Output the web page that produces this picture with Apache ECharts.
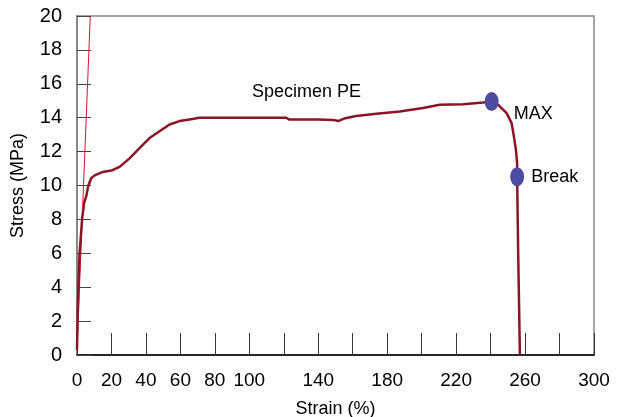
<!DOCTYPE html>
<html><head><meta charset="utf-8">
<script src="https://cdn.jsdelivr.net/npm/echarts@6/dist/echarts.min.js"></script>
<style>html,body{margin:0;padding:0;background:#fff}#c{width:617px;height:417px}</style>
</head><body><div id="c"></div>
<script>
const strainCurve = [0,0.3,0.8,1.5,3.0,4.2,5.3,6.6,8.25,10.2,15.0,20.6,24.7,30.5,36.3,42.1,47.9,53.7,59.5,65.3,71.1,100,121.5,123,140,148.6,151.5,155,162,173.8,187.3,200.8,210.5,224,235.7,240.6,244.4,249.3,252.2,253.5,254.7,255.4,255.4,256,257];
const stressCurve = [0.3,2,4,6,8.06,9.0,9.34,10.0,10.43,10.6,10.8,10.9,11.1,11.6,12.2,12.8,13.2,13.6,13.8,13.9,14.0,14.0,14.0,13.9,13.9,13.87,13.8,13.95,14.1,14.23,14.37,14.57,14.76,14.8,14.9,14.96,14.76,14.27,13.68,12.9,12.1,11.3,10.52,6,0];
const elasticStrain = [0,7.7];
const elasticStress = [0.3,20];
const markerNames = ['MAX','Break'];
const markerStrain = [240.6,255.4];
const markerStress = [14.96,10.52];
const xTickLabels = [0,20,40,60,80,100,140,180,220,260,300];
const specimenLabel = 'Specimen PE';

const chart = echarts.init(document.getElementById('c'));
const font = '"Liberation Sans", Arial, sans-serif';
const labelOffsets = {MAX:[8,13], Break:[0,0]};
chart.setOption({
  animation:false,
  grid:{left:77,right:23,top:16,bottom:62,outerBoundsMode:'none',containLabel:false,show:true,borderColor:'#888',borderWidth:1.5},
  graphic:[{type:'text',left:252,top:83,style:{text:specimenLabel,fontFamily:font,fontSize:18,fill:'#000'}}],
  xAxis:{type:'value',min:0,max:300,interval:20,
    name:'Strain (%)',nameLocation:'middle',nameGap:45,
    nameTextStyle:{fontFamily:font,fontSize:18,color:'#000'},
    axisLine:{lineStyle:{color:'#000',width:1.5}},
    axisTick:{inside:true,length:22,lineStyle:{color:'#333'}},
    splitLine:{show:false},
    axisLabel:{fontFamily:font,fontSize:19,color:'#000',margin:16,
      formatter:v=>xTickLabels.includes(v)?String(v):''}},
  yAxis:{type:'value',min:0,max:20,interval:2,
    name:'Stress (MPa)',nameLocation:'middle',nameGap:50,
    nameTextStyle:{fontFamily:font,fontSize:18,color:'#000'},
    axisLine:{lineStyle:{color:'#888',width:2}},
    axisTick:{inside:true,length:14,lineStyle:{color:'#444'}},
    splitLine:{show:false},
    axisLabel:{fontFamily:font,fontSize:20,color:'#000',margin:15}},
  series:[
    {type:'line',data:elasticStrain.map((x,i)=>[x,elasticStress[i]]),symbol:'none',
      lineStyle:{color:'#e0102a',width:1},z:3},
    {type:'line',data:strainCurve.map((x,i)=>[x,stressCurve[i]]),symbol:'none',
      lineStyle:{color:'#8b1425',width:2.5},z:4},
    {type:'scatter',data:markerStrain.map((x,i)=>({value:[x,markerStress[i]],name:markerNames[i],
        label:{offset:labelOffsets[markerNames[i]]}})),
      symbol:'circle',symbolSize:[14,19],itemStyle:{color:'#4c4ca0',opacity:1},z:5,
      label:{show:true,position:'right',distance:7,formatter:p=>p.name,
        fontFamily:font,fontSize:18,color:'#000'}}
  ]
});
</script></body></html>
